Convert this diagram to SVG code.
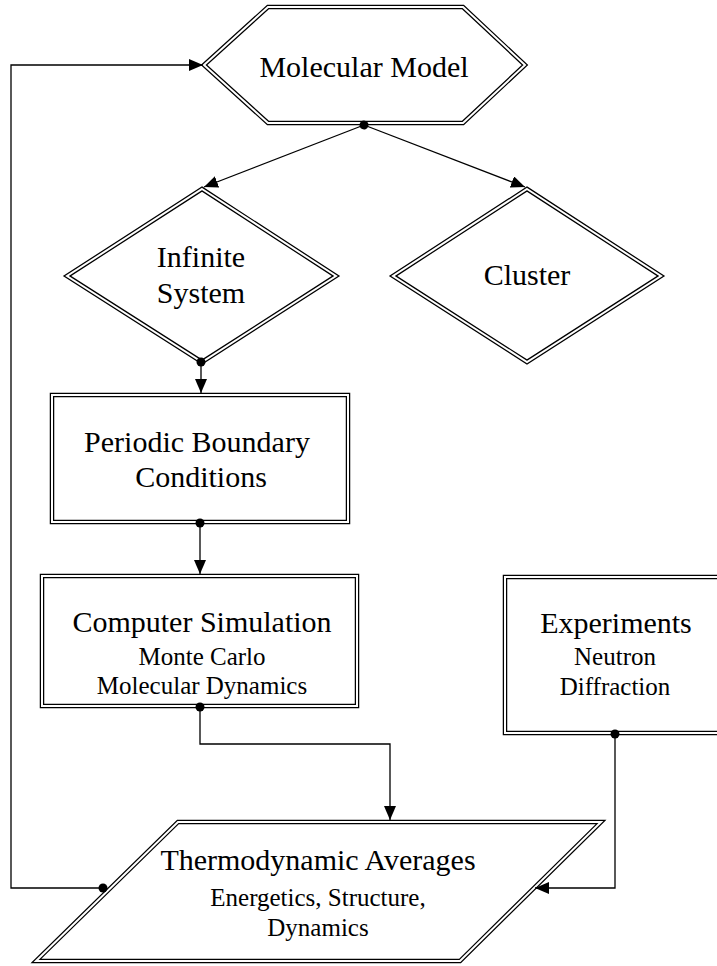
<svg xmlns="http://www.w3.org/2000/svg" width="717" height="966" viewBox="0 0 717 966">
  <defs>
    <marker id="arrow" markerUnits="userSpaceOnUse" markerWidth="15" markerHeight="12" refX="14" refY="6" orient="auto">
      <path d="M0,0 L14,6 L0,12 z" fill="#000"/>
    </marker>
    <marker id="dot" markerUnits="userSpaceOnUse" markerWidth="11" markerHeight="11" refX="5.5" refY="5.5" orient="auto">
      <circle cx="5.5" cy="5.5" r="4.5" fill="#000"/>
    </marker>
  </defs>
  <rect width="717" height="966" fill="#fff"/>

  <!-- shapes: double outline = thick black stroke with thin white stroke on top -->
  <g id="molecular-model">
    <polygon points="204,65 268,7 463,7 525,65 463,123 268,123" fill="#fff" stroke="#000" stroke-width="4.5"/>
    <polygon points="204,65 268,7 463,7 525,65 463,123 268,123" fill="none" stroke="#fff" stroke-width="2"/>
    <text x="364" y="77" font-family="Times New Roman, serif" font-size="30" text-anchor="middle">Molecular Model</text>
  </g>

  <g id="infinite-system">
    <polygon points="202,189 336,276 202,362 67,276" fill="#fff" stroke="#000" stroke-width="4.5"/>
    <polygon points="202,189 336,276 202,362 67,276" fill="none" stroke="#fff" stroke-width="2"/>
    <text x="201" y="267" font-family="Times New Roman, serif" font-size="30" text-anchor="middle">Infinite</text>
    <text x="201" y="303" font-family="Times New Roman, serif" font-size="30" text-anchor="middle">System</text>
  </g>

  <g id="cluster">
    <polygon points="527,189 661,276 527,362 393,276" fill="#fff" stroke="#000" stroke-width="4.5"/>
    <polygon points="527,189 661,276 527,362 393,276" fill="none" stroke="#fff" stroke-width="2"/>
    <text x="527" y="285" font-family="Times New Roman, serif" font-size="30" text-anchor="middle">Cluster</text>
  </g>

  <g id="periodic-boundary">
    <rect x="52" y="395" width="296" height="127" fill="#fff" stroke="#000" stroke-width="4.5"/>
    <rect x="52" y="395" width="296" height="127" fill="none" stroke="#fff" stroke-width="2"/>
    <text x="197" y="452" font-family="Times New Roman, serif" font-size="30" text-anchor="middle">Periodic Boundary</text>
    <text x="201" y="487" font-family="Times New Roman, serif" font-size="30" text-anchor="middle">Conditions</text>
  </g>

  <g id="computer-simulation">
    <rect x="42" y="576" width="315" height="130" fill="#fff" stroke="#000" stroke-width="4.5"/>
    <rect x="42" y="576" width="315" height="130" fill="none" stroke="#fff" stroke-width="2"/>
    <text x="202" y="632" font-family="Times New Roman, serif" font-size="30" text-anchor="middle">Computer Simulation</text>
    <text x="202" y="665" font-family="Times New Roman, serif" font-size="25" text-anchor="middle">Monte Carlo</text>
    <text x="202" y="694" font-family="Times New Roman, serif" font-size="25" text-anchor="middle">Molecular Dynamics</text>
  </g>

  <g id="experiments">
    <rect x="505" y="577" width="220" height="156" fill="#fff" stroke="#000" stroke-width="4.5"/>
    <rect x="505" y="577" width="220" height="156" fill="none" stroke="#fff" stroke-width="2"/>
    <text x="616" y="633" font-family="Times New Roman, serif" font-size="30" text-anchor="middle">Experiments</text>
    <text x="615" y="665" font-family="Times New Roman, serif" font-size="25" text-anchor="middle">Neutron</text>
    <text x="615" y="695" font-family="Times New Roman, serif" font-size="25" text-anchor="middle">Diffraction</text>
  </g>

  <g id="thermodynamic-averages">
    <polygon points="178,822 601,822 460,961 36,961" fill="#fff" stroke="#000" stroke-width="4.5"/>
    <polygon points="178,822 601,822 460,961 36,961" fill="none" stroke="#fff" stroke-width="2"/>
    <text x="318" y="870" font-family="Times New Roman, serif" font-size="30" text-anchor="middle">Thermodynamic Averages</text>
    <text x="318" y="906" font-family="Times New Roman, serif" font-size="25" text-anchor="middle">Energetics, Structure,</text>
    <text x="318" y="936" font-family="Times New Roman, serif" font-size="25" text-anchor="middle">Dynamics</text>
  </g>

  <!-- connectors -->
  <g id="connectors" fill="none" stroke="#000" stroke-width="1.3">
    <path d="M364,125 L204,187" marker-start="url(#dot)" marker-end="url(#arrow)"/>
    <path d="M364,125 L525,187" marker-end="url(#arrow)"/>
    <path d="M201,362 L201,393" marker-start="url(#dot)" marker-end="url(#arrow)"/>
    <path d="M200,523 L200,574" marker-start="url(#dot)" marker-end="url(#arrow)"/>
    <path d="M200,707 L200,744 L390,744 L390,820" marker-start="url(#dot)" marker-end="url(#arrow)"/>
    <path d="M615,734 L615,888 L535,888" marker-start="url(#dot)" marker-end="url(#arrow)"/>
    <path d="M103,888 L11,888 L11,65 L203,65" marker-start="url(#dot)" marker-end="url(#arrow)"/>
  </g>
</svg>
